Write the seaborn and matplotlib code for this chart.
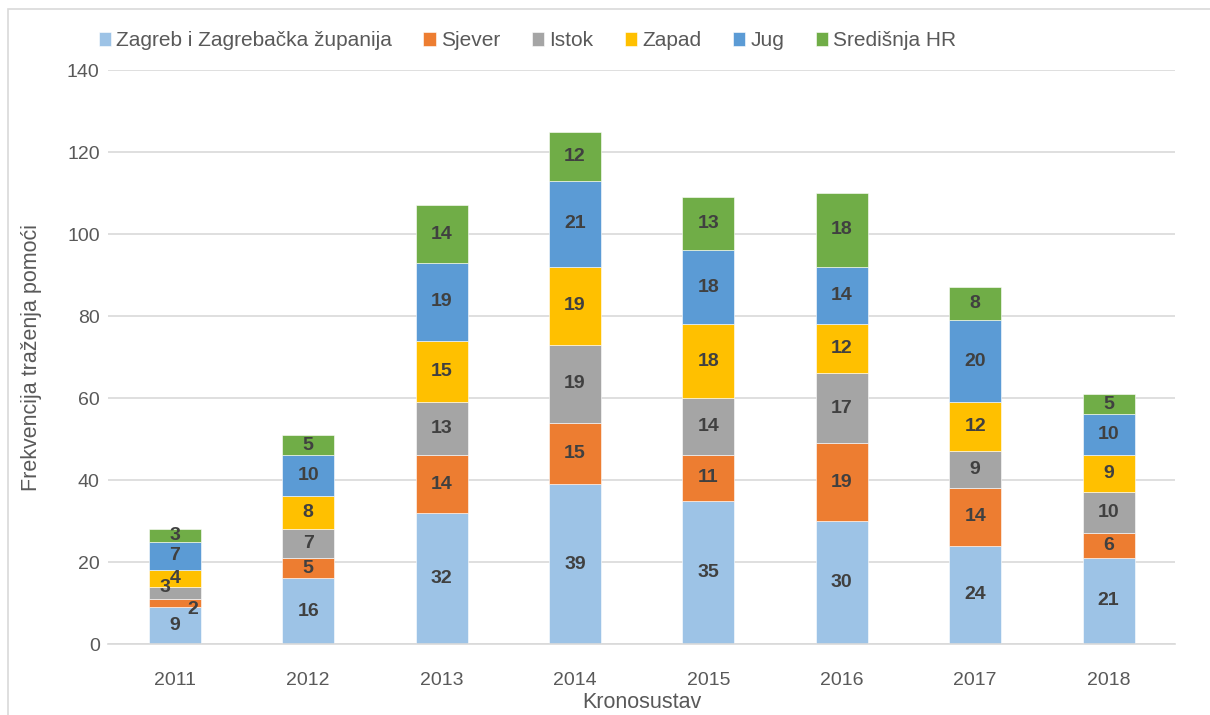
import matplotlib
matplotlib.use("Agg")
import matplotlib.pyplot as plt
import seaborn as sns
import numpy as np
from matplotlib.patches import Rectangle

years = ["2011", "2012", "2013", "2014", "2015", "2016", "2017", "2018"]
series_names = ["Zagreb i Zagrebačka županija", "Sjever", "Istok", "Zapad", "Jug", "Središnja HR"]
zagreb = [9, 16, 32, 39, 35, 30, 24, 21]
sjever = [2, 5, 14, 15, 11, 19, 14, 6]
istok = [3, 7, 13, 19, 14, 17, 9, 10]
zapad = [4, 8, 15, 19, 18, 12, 12, 9]
jug = [7, 10, 19, 21, 18, 14, 20, 10]
sredisnja = [3, 5, 14, 12, 13, 18, 8, 5]
colors = ["#9DC3E6", "#ED7D31", "#A5A5A5", "#FFC000", "#5B9BD5", "#70AD47"]

sns.set_theme(style="white")
plt.rcParams['font.family'] = ['Liberation Sans', 'DejaVu Sans']

fig = plt.figure(figsize=(12.1, 7.15), dpi=100)
ax = fig.add_axes([0.0893, 0.0993, 0.882, 0.8027])

all_series = [zagreb, sjever, istok, zapad, jug, sredisnja]
bottom = np.zeros(len(years))
for name, vals, col in zip(series_names, all_series, colors):
    sns.barplot(x=years, y=vals, bottom=bottom, color=col, width=0.39,
                label=name, ax=ax, saturation=1, edgecolor="white", linewidth=0.4)
    bottom = bottom + np.array(vals)

# data labels
for ci, cont in enumerate(ax.containers):
    for bi, rect in enumerate(cont):
        h = rect.get_height()
        cx = rect.get_x() + rect.get_width() / 2
        cy = rect.get_y() + h / 2
        dx, dy = 0, 0
        if bi == 0 and ci == 2:
            dx, dy = -7, 4
        if bi == 0 and ci == 1:
            dx, dy = 13, -5
        ax.annotate(str(int(round(h))), (cx, cy), xytext=(dx, dy), textcoords="offset points",
                    ha="center", va="center", fontsize=14, fontweight="bold", color="#404040")

ax.set_ylim(0, 140)
ax.set_yticks(range(0, 141, 20))
ax.yaxis.grid(True, color="#D9D9D9", linewidth=1.2)
ax.set_axisbelow(True)
for s in ["left", "right", "top"]:
    ax.spines[s].set_visible(False)
ax.spines["bottom"].set_color("#D9D9D9")
ax.spines["bottom"].set_linewidth(1.2)
ax.tick_params(axis="both", labelsize=14, colors="#595959", length=0)
ax.tick_params(axis="x", pad=20)
ax.tick_params(axis="y", pad=6)
ax.set_xlabel("Kronosustav", fontsize=15.5, color="#595959", labelpad=2)
ax.set_ylabel("Frekvencija traženja pomoći", fontsize=15.5, color="#595959", labelpad=18)

handles, labels = ax.get_legend_handles_labels()
leg = fig.legend(handles, labels, loc="center left", bbox_to_anchor=(0.066, 0.943), ncol=6,
                 frameon=False, fontsize=15, handlelength=0.6, handleheight=0.7,
                 handletextpad=0.25, columnspacing=1.5, labelcolor="#595959")
if ax.legend_:
    ax.legend_.remove()

fig.patches.append(Rectangle((0.007, -0.1), 1.1, 1.088, transform=fig.transFigure,
                             fill=False, edgecolor="#D9D9D9", linewidth=1.2))

fig.savefig("out.png", dpi=100)
